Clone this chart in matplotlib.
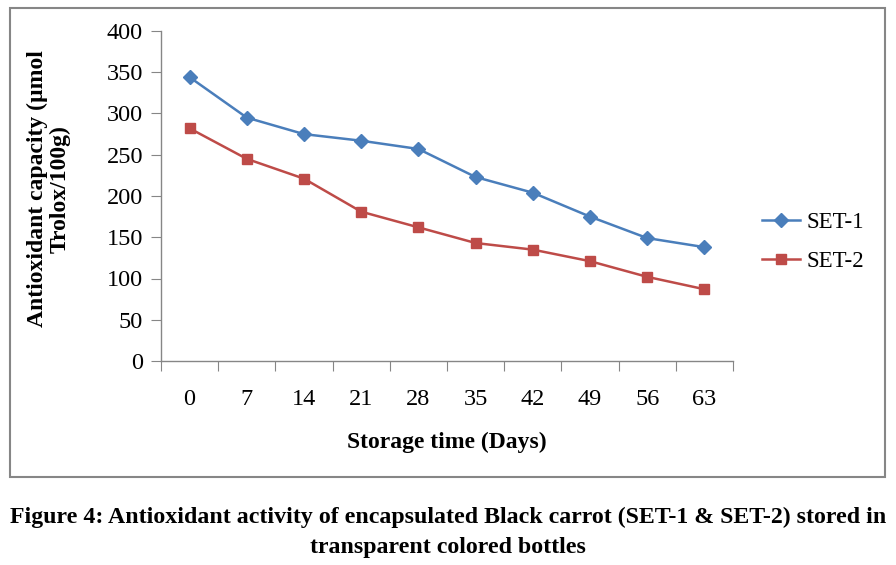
import matplotlib
matplotlib.use("Agg")
import matplotlib.pyplot as plt
from matplotlib.patches import Rectangle
import numpy as np

days = ["0", "7", "14", "21", "28", "35", "42", "49", "56", "63"]
set1 = [344, 295, 275, 267, 257, 223, 204, 175, 149, 138]
set2 = [282, 245, 221, 181, 162, 143, 135, 121, 102, 87]
y_ticks = [0, 50, 100, 150, 200, 250, 300, 350, 400]

plt.rcParams['font.family'] = ['Liberation Serif', 'DejaVu Serif']

W, H = 896, 565
fig = plt.figure(figsize=(W / 100, H / 100), dpi=100)
ax = fig.add_axes([161 / W, 1 - 361 / H, (733 - 161) / W, (361 - 31) / H])

x = np.arange(len(days))
ax.plot(x, set1, color='#4A7EBB', lw=1.8, marker='D', ms=7.5, label='SET-1', clip_on=False)
ax.plot(x, set2, color='#BE4B48', lw=1.8, marker='s', ms=7.5, label='SET-2', clip_on=False)

ax.set_xlim(-0.5, len(days) - 0.5)
ax.set_ylim(0, 400)
ax.set_yticks(y_ticks)
ax.set_yticklabels([str(v) for v in y_ticks], fontsize=17.5)

ax.set_xticks(np.arange(-0.5, len(days), 1.0))
ax.set_xticklabels([])
ax.set_xticks(x, minor=True)
ax.set_xticklabels(days, minor=True, fontsize=17.5)
ax.tick_params(axis='x', which='minor', length=0, pad=20)
ax.tick_params(axis='x', which='major', length=7, color='#868686', direction='out')
ax.tick_params(axis='y', length=7, color='#868686', direction='out', pad=6)

for s in ['top', 'right']:
    ax.spines[s].set_visible(False)
for s in ['left', 'bottom']:
    ax.spines[s].set_color('#868686')
    ax.spines[s].set_linewidth(1.0)

ax.set_xlabel('Storage time (Days)', fontsize=17, fontweight='bold', labelpad=16)
fig.text(49 / W, 1 - 189 / H, 'Antioxidant capacity (µmol\nTrolox/100g)', rotation=90,
         ha='center', va='center', fontsize=17, fontweight='bold', linespacing=1.1)

leg = ax.legend(loc='center left', bbox_to_anchor=((762 - 161) / 572, (361 - 242) / 330),
                frameon=False, borderpad=0, borderaxespad=0,
                fontsize=16.5, handlelength=1.66, labelspacing=0.8, handletextpad=0.28)

fig.patches.append(Rectangle((10 / W, 1 - 477 / H), (885 - 10) / W, (477 - 8) / H,
                             transform=fig.transFigure, fill=False,
                             edgecolor='#868686', lw=1.5))

fig.text(0.5, 1 - 517 / H,
         'Figure 4: Antioxidant activity of encapsulated Black carrot (SET-1 & SET-2) stored in',
         ha='center', va='center', fontsize=17.2, fontweight='bold')
fig.text(0.5, 1 - 547 / H, 'transparent colored bottles',
         ha='center', va='center', fontsize=17.2, fontweight='bold')

fig.savefig('out.png', dpi=100)
